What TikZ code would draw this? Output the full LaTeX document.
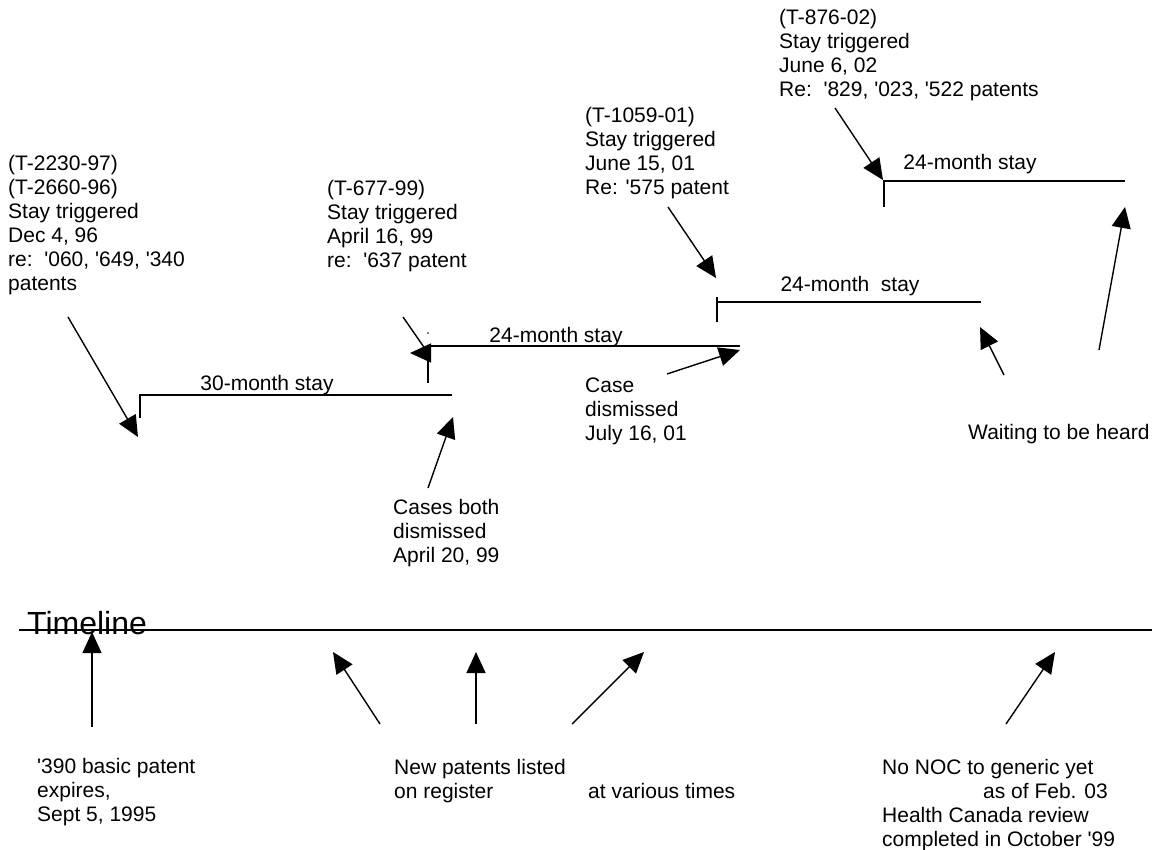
\documentclass[tikz,border=0pt]{standalone}
\usepackage{fontspec}
\setmainfont{Liberation Sans}
\usetikzlibrary{arrows.meta}
\newcommand{\blk}[1]{\begin{tabular}[t]{@{}l@{}}#1\end{tabular}}
\newcommand{\q}{\textquotesingle}
\begin{document}
\begin{tikzpicture}[x=1pt,y=-1pt,
  txt/.style={anchor=base west,inner sep=0pt,font=\fontsize{21}{24}\selectfont},
  lbl/.style={anchor=base,inner sep=0pt,font=\fontsize{21}{24}\selectfont},
  arr/.style={line width=1.4pt,-{Triangle[length=21pt,width=19pt]}},
  stayline/.style={line width=1.4pt},
  tline/.style={line width=1.9pt}]
\useasboundingbox (0,0) rectangle (1159,850);

% text blocks
\node[txt] (t2230) at (8,170.5) {\blk{(T-2230-97)\\(T-2660-96)\\Stay triggered\\Dec 4, 96\\re:\ \ \q060, \q649, \q340\\patents}};
\node[txt] (t677) at (327,195.5) {\blk{(T-677-99)\\Stay triggered\\April 16, 99\\re:\ \ \q637 patent}};
\node[txt] (t1059) at (585,122.5) {\blk{(T-1059-01)\\Stay triggered\\June 15, 01\\Re: \q575 patent}};
\node[txt] (t876) at (779,24.5) {\blk{(T-876-02)\\Stay triggered\\June 6, 02\\Re:\ \ \q829, \q023, \q522 patents}};
\node[txt] (casedis) at (585,392.5) {\blk{Case\\dismissed\\July 16, 01}};
\node[txt] (casesboth) at (393,514.5) {\blk{Cases both\\dismissed\\April 20, 99}};
\node[txt] (waiting) at (968,439.5) {Waiting to be heard};
\node[txt] (basic) at (37,773.5) {\blk{\q390 basic patent\\expires,\\Sept 5, 1995}};
\node[txt] (newpat) at (394,774.5) {\blk{New patents listed\\on register}};
\node[txt] (various) at (588,798.5) {at various times};
\node[txt] (noc) at (882,774.5) {\blk{No NOC to generic yet\\\hspace*{101pt}as of Feb. 03\\Health Canada review\\completed in October \q99}};
\node[anchor=base west,inner sep=0pt,font=\fontsize{32}{36}\selectfont] (tl) at (27,634) {Timeline};

% stay labels
\node[lbl] (s30) at (267,390) {30-month stay};
\node[lbl] (s24a) at (556,342) {24-month stay};
\node[lbl] (s24b) at (850,291) {24-month\ \ stay};
\node[lbl] (s24c) at (970,170) {24-month stay};

% coordinates
\coordinate (a1s) at (68,317);   \coordinate (a1e) at (138,437);
\coordinate (l1t) at (140,418);  \coordinate (l1a) at (140,395); \coordinate (l1b) at (452,395);
\coordinate (a2s) at (428,488);  \coordinate (a2e) at (453,417);
\coordinate (a3s) at (403,317);  \coordinate (a3m) at (428,353); \coordinate (a3e) at (410,353);
\coordinate (l2t) at (428,383);  \coordinate (l2a) at (428,346); \coordinate (l2b) at (740,346);
\coordinate (a4s) at (667,374);  \coordinate (a4e) at (740,350);
\coordinate (a5s) at (668,207);  \coordinate (a5e) at (716,278);
\coordinate (l3t) at (717,322);  \coordinate (l3u) at (717,297);
\coordinate (l3a) at (717,302);  \coordinate (l3b) at (981,302);
\coordinate (a6s) at (1004,375); \coordinate (a6e) at (980,327);
\coordinate (a7s) at (835,108);  \coordinate (a7e) at (883,180);
\coordinate (l4t) at (884,207);  \coordinate (l4a) at (884,181); \coordinate (l4b) at (1125,181);
\coordinate (a8s) at (1099,350); \coordinate (a8e) at (1125,207);
\coordinate (tla) at (19,630);   \coordinate (tlb) at (1152,630);
\coordinate (b1s) at (92,727);   \coordinate (b1e) at (92,632);
\coordinate (b2s) at (380,724);  \coordinate (b2e) at (333,652);
\coordinate (b3s) at (476,724);  \coordinate (b3e) at (476,652);
\coordinate (b4s) at (572,724);  \coordinate (b4e) at (644,652);
\coordinate (b5s) at (1006,724); \coordinate (b5e) at (1055,652);

% stays
\draw[stayline] (l1t) -- (l1a) -- (l1b);
\draw[stayline] (l2t) -- (l2a) -- (l2b);
\draw[stayline] (l3t) -- (l3u);
\draw[stayline] (l3a) -- (l3b);
\draw[stayline] (l4t) -- (l4a) -- (l4b);
\fill (428,333) circle (0.9);

% arrows
\draw[arr] (a1s) -- (a1e);
\draw[arr] (a2s) -- (a2e);
\draw[arr] (a3s) -- (a3m) -- (a3e);
\draw[arr] (a4s) -- (a4e);
\draw[arr] (a5s) -- (a5e);
\draw[arr] (a6s) -- (a6e);
\draw[arr] (a7s) -- (a7e);
\draw[arr] (a8s) -- (a8e);

% timeline
\draw[tline] (tla) -- (tlb);
\draw[arr] (b1s) -- (b1e);
\draw[arr] (b2s) -- (b2e);
\draw[arr] (b3s) -- (b3e);
\draw[arr] (b4s) -- (b4e);
\draw[arr] (b5s) -- (b5e);
\end{tikzpicture}
\end{document}
